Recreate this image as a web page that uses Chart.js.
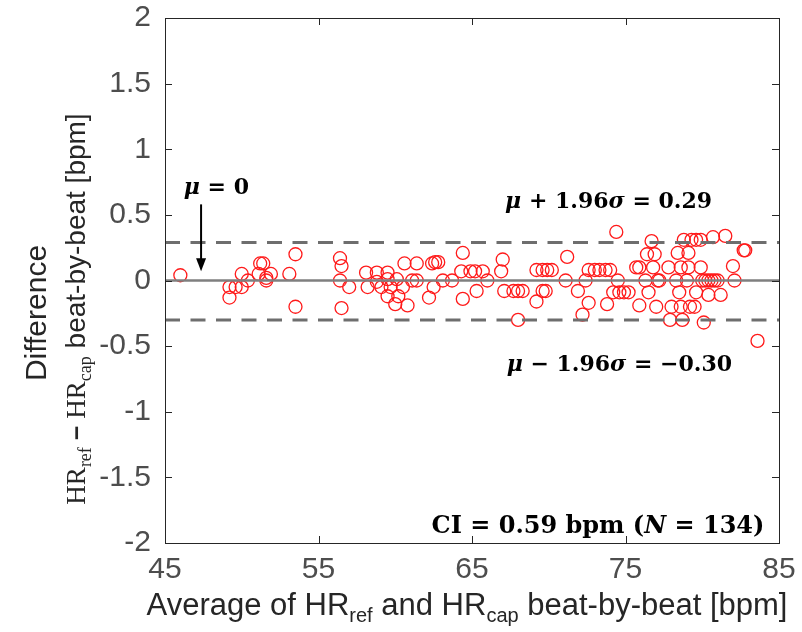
<!DOCTYPE html>
<html><head><meta charset="utf-8">
<script src="https://cdn.jsdelivr.net/npm/chart.js@4/dist/chart.umd.min.js"></script>
<style>html,body{margin:0;padding:0;background:#fff}#wrap{width:802px;height:632px}</style>
</head><body><div id="wrap"><canvas id="c" width="802" height="632"></canvas></div>
<script>
// ---- data ----
const avgHR = [
46.0,49.2,49.2,49.6,50.0,50.0,50.4,51.2,51.4,51.1,51.6,51.9,51.6,53.1,53.5,53.5,
56.4,56.5,56.4,56.5,57.0,58.1,58.2,58.8,58.8,59.1,59.5,59.5,59.5,59.7,60.0,60.1,60.2,60.5,60.6,60.8,61.1,61.4,61.4,62.2,62.5,62.4,62.6,62.8,63.1,63.7,64.4,64.3,64.4,
64.9,65.2,65.7,65.3,66.0,67.0,66.9,67.1,67.7,68.0,68.3,68.0,69.2,69.6,69.9,70.2,69.2,69.6,69.8,71.1,71.2,71.9,72.4,72.6,72.2,72.6,73.0,73.3,73.7,74.0,73.8,74.2,74.4,74.5,
74.6,74.9,75.2,75.7,75.9,75.9,76.3,76.4,76.5,76.7,76.8,76.9,77.0,77.1,77.2,77.8,77.9,78.0,78.3,78.5,78.4,78.6,78.6,78.7,78.8,79.0,79.1,79.1,79.2,79.3,79.5,79.6,79.6,79.9,79.9,80.0,80.1,80.2,80.4,80.4,80.6,80.7,80.8,81.0,81.2,81.5,82.0,82.1,82.7,82.8,83.6];
const diffHR = [
0.04,-0.05,-0.13,-0.05,-0.05,0.05,0.00,0.13,0.13,0.05,0.00,0.05,0.02,0.05,0.20,-0.20,
0.17,0.11,0.00,-0.21,-0.05,0.06,-0.05,0.06,-0.01,-0.05,0.06,0.01,-0.12,-0.05,-0.18,0.01,-0.12,-0.05,0.13,-0.19,0.00,0.13,0.00,-0.13,-0.05,0.13,0.14,0.14,0.00,0.00,0.21,0.07,-0.14,
0.07,0.07,0.07,-0.08,0.00,0.16,0.07,-0.08,-0.08,-0.08,-0.08,-0.30,0.08,0.08,0.08,0.08,-0.16,-0.08,-0.08,0.00,0.18,-0.08,0.00,-0.17,-0.26,0.08,0.08,0.08,0.08,0.08,-0.18,-0.09,0.37,0.00,
-0.09,-0.09,-0.09,0.10,0.10,-0.19,0.00,0.20,-0.09,0.30,0.10,0.20,-0.20,0.00,0.00,0.10,-0.30,-0.20,0.00,-0.09,0.21,0.10,-0.20,-0.30,0.31,0.00,0.21,0.10,-0.20,0.31,-0.20,-0.09,0.31,0.31,0.10,0.00,-0.32,0.00,0.00,-0.11,0.00,0.33,0.00,0.00,-0.11,0.34,0.11,0.00,0.23,0.23,-0.46];
const meanDiff = 0;
const upperLoA = 0.29;
const lowerLoA = -0.30;
const xRange = [45, 85];
const yRange = [-2, 2];
const xTickValues = [45, 55, 65, 75, 85];
const yTickValues = [-2, -1.5, -1, -0.5, 0, 0.5, 1, 1.5, 2];
const yTickLabels = ['-2', '-1.5', '-1', '-0.5', '0', '0.5', '1', '1.5', '2'];
const ciText = '0.59';
const nCount = '134';

// ---- styling ----
const SANS = '"Liberation Sans", Arial, sans-serif';
const SERIF = '"Liberation Serif", "Times New Roman", serif';
const MATH = '"DejaVu Serif", serif';
const TICK_COLOR = '#4d4d4d';
const TITLE_COLOR = '#262626';

function drawRich(ctx, segs, x, y, align) {
  let w = 0;
  segs.forEach(s => { ctx.font = s.f; s.w = ctx.measureText(s.t).width; w += s.w; });
  let cx = align === 'center' ? x - w / 2 : (align === 'right' ? x - w : x);
  ctx.textAlign = 'left';
  ctx.textBaseline = 'alphabetic';
  segs.forEach(s => { ctx.font = s.f; ctx.fillText(s.t, cx, y + (s.dy || 0)); cx += s.w; });
}

const decorPlugin = {
  id: 'decor',
  afterDatasetsDraw(chart) {
    const ctx = chart.ctx;
    const a = chart.chartArea;
    const xs = chart.scales.x, ys = chart.scales.y;
    ctx.save();
    // frame
    ctx.strokeStyle = '#262626';
    ctx.lineWidth = 1;
    ctx.strokeRect(Math.round(a.left) + 0.5, Math.round(a.top) + 0.5, Math.round(a.right - a.left), Math.round(a.bottom - a.top));
    // inner ticks
    const tl = 7;
    ctx.beginPath();
    xs.ticks.forEach(t => {
      const px = Math.round(xs.getPixelForValue(t.value)) + 0.5;
      ctx.moveTo(px, a.bottom); ctx.lineTo(px, a.bottom - tl);
      ctx.moveTo(px, a.top); ctx.lineTo(px, a.top + tl);
    });
    ys.ticks.forEach(t => {
      const py = Math.round(ys.getPixelForValue(t.value)) + 0.5;
      ctx.moveTo(a.left, py); ctx.lineTo(a.left + tl, py);
      ctx.moveTo(a.right, py); ctx.lineTo(a.right - tl, py);
    });
    ctx.stroke();

    // annotations
    ctx.fillStyle = '#000';
    const B = 'bold 22px ' + MATH;
    const BI = 'italic bold 22px ' + MATH;
    // mu = 0 label + arrow
    const ax = xs.getPixelForValue(47.35);
    drawRich(ctx, [{t: 'μ', f: BI}, {t: ' = 0', f: B}], xs.getPixelForValue(48.35), ys.getPixelForValue(0.66), 'center');
    const y0 = ys.getPixelForValue(0.58), y1 = ys.getPixelForValue(0.07);
    ctx.strokeStyle = '#000';
    ctx.lineWidth = 2;
    ctx.beginPath(); ctx.moveTo(ax, y0); ctx.lineTo(ax, y1 - 8); ctx.stroke();
    ctx.beginPath(); ctx.moveTo(ax, y1); ctx.lineTo(ax - 5, y1 - 13); ctx.lineTo(ax + 5, y1 - 13); ctx.closePath(); ctx.fill();
    // limits of agreement labels
    drawRich(ctx, [{t: 'μ', f: BI}, {t: ' + 1.96', f: B}, {t: 'σ', f: BI}, {t: ' = ' + upperLoA.toFixed(2), f: B}],
      xs.getPixelForValue(73.9), ys.getPixelForValue(0.555), 'center');
    drawRich(ctx, [{t: 'μ', f: BI}, {t: ' − 1.96', f: B}, {t: 'σ', f: BI}, {t: ' = −' + Math.abs(lowerLoA).toFixed(2), f: B}],
      xs.getPixelForValue(74.6), ys.getPixelForValue(-0.69), 'center');
    const C = 'bold 24px ' + MATH, CI = 'italic bold 24px ' + MATH;
    drawRich(ctx, [{t: 'CI = ' + ciText + ' bpm (', f: C}, {t: 'N', f: CI}, {t: ' = ' + nCount + ')', f: C}],
      xs.getPixelForValue(84.05), ys.getPixelForValue(-1.92), 'right');

    // axis titles
    ctx.fillStyle = TITLE_COLOR;
    const T = '31px ' + SANS, Ts = '20px ' + SANS;
    drawRich(ctx, [{t: 'Average of HR', f: T}, {t: 'ref', f: Ts, dy: 7}, {t: ' and HR', f: T}, {t: 'cap', f: Ts, dy: 7}, {t: ' beat-by-beat [bpm]', f: T}],
      467, 615, 'center');
    ctx.save();
    ctx.translate(46, 313);
    ctx.rotate(-Math.PI / 2);
    drawRich(ctx, [{t: 'Difference', f: '30px ' + SANS}], 0, 0, 'center');
    ctx.restore();
    ctx.save();
    ctx.translate(85, 309);
    ctx.rotate(-Math.PI / 2);
    const S = '27px ' + SERIF, Ss = '18px ' + SERIF;
    drawRich(ctx, [{t: 'HR', f: S}, {t: 'ref', f: Ss, dy: 6}, {t: ' − ', f: 'bold 25px ' + SANS}, {t: 'HR', f: S}, {t: 'cap', f: Ss, dy: 6}, {t: ' beat-by-beat [bpm]', f: '28px ' + SANS}], 0, 0, 'center');
    ctx.restore();
    ctx.restore();
  }
};

const lineDs = (v, color, width, dash) => ({
  type: 'line',
  data: [{x: xRange[0], y: v}, {x: xRange[1], y: v}],
  borderColor: color, borderWidth: width, borderDash: dash,
  pointRadius: 0, fill: false, order: 0
});

new Chart(document.getElementById('c'), {
  type: 'scatter',
  data: {
    datasets: [
      {
        data: avgHR.map((x, i) => ({x, y: diffHR[i]})),
        pointStyle: 'circle', pointRadius: 6.5, pointBorderWidth: 1.3,
        borderColor: '#ff1a1a', backgroundColor: 'rgba(0,0,0,0)', order: 1
      },
      lineDs(meanDiff, '#7f7f7f', 2.5, []),
      lineDs(upperLoA, '#6e6e6e', 3, [15, 10.5]),
      lineDs(lowerLoA, '#6e6e6e', 3, [15, 10.5])
    ]
  },
  options: {
    responsive: false,
    animation: false,
    devicePixelRatio: 1,
    layout: {padding: {top: 18, right: 23, left: 0, bottom: 0}},
    plugins: {legend: {display: false}, tooltip: {enabled: false}},
    scales: {
      x: {
        type: 'linear', min: xRange[0], max: xRange[1],
        afterBuildTicks: s => { s.ticks = xTickValues.map(v => ({value: v})); },
        afterFit: s => { s.height = 89; s.paddingLeft = 0; s.paddingRight = 0; },
        grid: {display: false, drawTicks: false},
        border: {display: false},
        ticks: {font: {family: SANS, size: 30}, color: TICK_COLOR, padding: 9, maxRotation: 0, autoSkip: false}
      },
      y: {
        type: 'linear', min: yRange[0], max: yRange[1],
        afterBuildTicks: s => { s.ticks = yTickValues.map(v => ({value: v})); },
        afterFit: s => { s.width = 165; s.paddingTop = 0; s.paddingBottom = 0; },
        grid: {display: false, drawTicks: false},
        border: {display: false},
        ticks: {font: {family: SANS, size: 30}, color: TICK_COLOR, padding: 14, autoSkip: false,
          callback: (v, i) => yTickLabels[i]}
      }
    }
  },
  plugins: [decorPlugin]
});
</script>
</body></html>
